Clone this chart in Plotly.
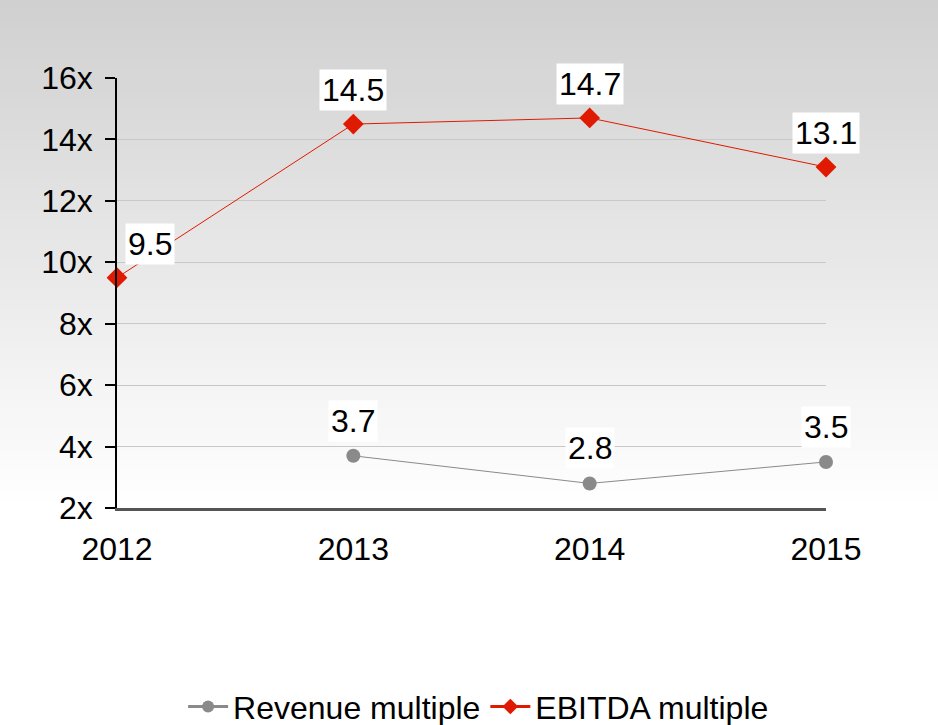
import plotly.graph_objects as go

years = [2012, 2013, 2014, 2015]
revenue_multiple = [None, 3.7, 2.8, 3.5]
ebitda_multiple = [9.5, 14.5, 14.7, 13.1]
y_ticks = [2, 4, 6, 8, 10, 12, 14, 16]

W, H = 938, 725
ml, mr, mt, mb = 117, 112, 78, 217
grey = '#8a8a8a'
red = '#e01a00'
font = 'Liberation Sans, Arial, sans-serif'
fs = 32

fig = go.Figure()

# data lines (thin) - legend drawn with dummy traces below
fig.add_trace(go.Scatter(x=years, y=revenue_multiple, mode='lines+markers', showlegend=False,
                         line=dict(color=grey, width=1), cliponaxis=False,
                         marker=dict(symbol='circle', size=14, color=grey)))
fig.add_trace(go.Scatter(x=years, y=ebitda_multiple, mode='lines+markers', showlegend=False,
                         line=dict(color=red, width=1), cliponaxis=False,
                         marker=dict(symbol='diamond', size=16, color=red)))
fig.add_trace(go.Scatter(x=[years[0]], y=[None], mode='lines+markers', name='Revenue multiple',
                         line=dict(color=grey, width=3),
                         marker=dict(symbol='circle', size=12, color=grey)))
fig.add_trace(go.Scatter(x=[years[0]], y=[None], mode='lines+markers', name='EBITDA multiple',
                         line=dict(color=red, width=3),
                         marker=dict(symbol='diamond', size=12, color=red)))

# value labels with white boxes
annos = []
for i, (x, v) in enumerate(zip(years, ebitda_multiple)):
    annos.append(dict(x=x, y=v, text=f'{v:.1f}', showarrow=False, yshift=34,
                      xshift=33 if i == 0 else 0, bgcolor='white', borderpad=2,
                      font=dict(size=fs, color='black', family=font)))
for x, v in zip(years, revenue_multiple):
    if v is None:
        continue
    annos.append(dict(x=x, y=v, text=f'{v:.1f}', showarrow=False, yshift=35,
                      bgcolor='white', borderpad=2,
                      font=dict(size=fs, color='black', family=font)))

# vertical grey-to-white background gradient in bands
plot_h = H - mt - mb
plot_w = W - ml - mr
shapes = []
grad_end = 500
n = 50
for k in range(n):
    y0px = grad_end * k / n
    y1px = grad_end * (k + 1) / n
    c = int(208 + (255 - 208) * (k + 0.5) / n)
    shapes.append(dict(type='rect', xref='paper', yref='paper', layer='below',
                       x0=-ml / plot_w - 0.01, x1=(W - ml) / plot_w + 0.01,
                       y0=(H - mb - y1px) / plot_h, y1=(H - mb - y0px) / plot_h + 0.001,
                       fillcolor=f'rgb({c},{c},{c})', line=dict(width=0)))

fig.update_layout(
    width=W, height=H,
    margin=dict(l=ml, r=mr, t=mt, b=mb, autoexpand=False),
    paper_bgcolor='white', plot_bgcolor='rgba(0,0,0,0)',
    font=dict(family=font, size=fs, color='black'),
    shapes=shapes, annotations=annos,
    legend=dict(orientation='h', x=0.51, xanchor='center', y=-0.462, yanchor='middle',
                font=dict(size=fs), bgcolor='rgba(0,0,0,0)', itemwidth=40),
)
fig.update_xaxes(range=[2012, 2015], tickvals=years, ticktext=[str(y) for y in years],
                 showgrid=False, zeroline=False, showline=True, linecolor='#555555', linewidth=3,
                 ticks='', ticklen=0, tickfont=dict(size=fs), ticklabelstandoff=11,
                 automargin=False)
fig.update_yaxes(range=[2, 16], tickvals=y_ticks, ticktext=[f'{v}x' for v in y_ticks],
                 showgrid=True, gridcolor='#c8c8c8', gridwidth=1, zeroline=False,
                 showline=True, linecolor='black', linewidth=1.5,
                 ticks='outside', ticklen=10, tickcolor='black', tickwidth=1.5,
                 tickfont=dict(size=fs), ticklabelstandoff=6, automargin=False)

fig.write_html('out.html', config=dict(displayModeBar=False),
               post_script="document.body.style.margin='0';")
